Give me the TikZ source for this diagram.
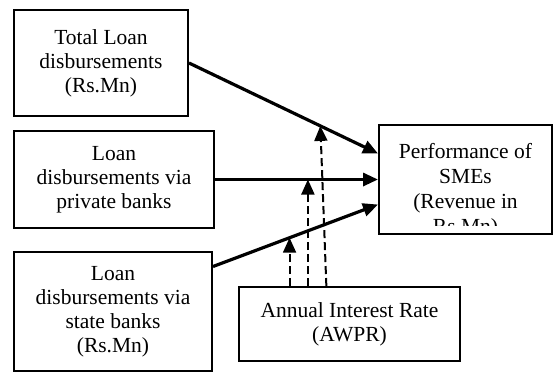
\documentclass[tikz,border=0pt]{standalone}
\usepackage{fontspec}
\setmainfont{Liberation Serif}
\usetikzlibrary{arrows.meta,calc}

\begin{document}
\begin{tikzpicture}[x=0.5pt,y=-0.5pt,
  box/.style={draw,line width=1pt,rectangle,align=center,inner sep=0pt,font=\fontsize{10.75}{12}\selectfont},
  flow/.style={line width=1.6pt,-{Triangle[length=7.5pt,width=6.5pt]}},
  moderate/.style={line width=1pt,dash pattern=on 4pt off 2pt,-{Triangle[length=7.5pt,width=6.5pt]}}]
\useasboundingbox (0,0) rectangle (553,372);
% independent variables
\node[box,minimum width=87pt,minimum height=53pt] (total) at (101,63) {Total Loan\\disbursements\\(Rs.Mn)};
\node[box,minimum width=100pt,minimum height=48.5pt] (privb) at (114,179.5) {Loan\\disbursements via\\private banks};
\node[box,minimum width=99pt,minimum height=59.5pt] (stateb) at (113,311.5) {Loan\\disbursements via\\state banks\\(Rs.Mn)};
% moderator
\node[box,minimum width=110.5pt,minimum height=37pt] (awpr) at (349.5,324) {Annual Interest Rate\\(AWPR)};
% dependent variable
\node[box,minimum width=86.5pt,minimum height=54.5pt] (perf) at (465.5,179.5) {};
\begin{scope}
\clip (perf.north west) rectangle ([yshift=5pt]perf.south east);
\node[box,draw=none,font=\fontsize{10.75}{12.5}\selectfont] (perftext) at (465.5,191) {Performance of\\SMEs\\(Revenue in\\Rs.Mn)};
\end{scope}

\draw[flow] (total.east) -- coordinate[pos=0.695] (m1) ([yshift=13pt]perf.west);
\draw[flow] (privb.east) -- coordinate[pos=0.57] (m2) (perf.west);
\draw[flow] ([yshift=22.5pt]stateb.east) -- coordinate[pos=0.464] (m3) ([yshift=-12.5pt]perf.west);

\draw[moderate] (m3 |- awpr.north) -- (m3);
\draw[moderate] (m2 |- awpr.north) -- (m2);
\draw[moderate] ($(m1 |- awpr.north)+(6,0)$) -- (m1);
\end{tikzpicture}
\end{document}
